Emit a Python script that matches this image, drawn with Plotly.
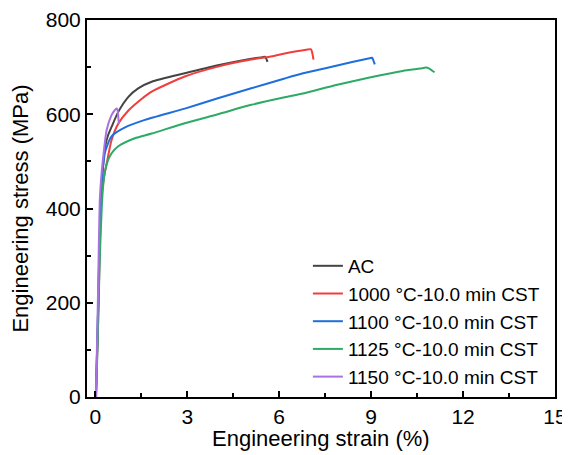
import plotly.graph_objects as go

# strain (%) and stress (MPa)
ac_strain = [0.02, 0.08, 0.13, 0.18, 0.24, 0.32, 0.42, 0.53, 0.75, 1.08, 1.40, 1.84, 2.92, 4.0, 5.09, 5.45, 5.53, 5.58, 5.62]
ac_stress = [0, 150, 300, 420, 480, 531, 556, 573, 605, 637, 655, 669, 687, 704, 718, 721, 722, 718, 711]

t1000_strain = [0.02, 0.09, 0.14, 0.20, 0.28, 0.37, 0.53, 0.75, 1.08, 1.5, 1.84, 2.92, 4.0, 5.09, 5.69, 6.18, 6.89, 7.03, 7.07, 7.12]
t1000_stress = [0, 150, 300, 420, 465, 495, 545, 580, 608, 632, 648, 680, 701, 716, 722, 729, 737, 738, 733, 716]

t1100_strain = [0.02, 0.08, 0.13, 0.18, 0.24, 0.32, 0.53, 0.97, 1.62, 2.92, 4.0, 5.09, 6.18, 6.78, 7.86, 8.95, 9.03, 9.07, 9.12]
t1100_stress = [0, 150, 300, 420, 480, 520, 553, 572, 588, 612, 634, 655, 676, 687, 703, 719, 720, 715, 706]

t1125_strain = [0.03, 0.09, 0.15, 0.21, 0.26, 0.32, 0.42, 0.53, 0.75, 1.29, 1.84, 2.92, 4.0, 5.09, 6.18, 6.78, 7.86, 8.95, 10.03, 10.6, 10.79, 10.9, 11.07]
t1125_stress = [0, 150, 300, 400, 450, 480, 503, 517, 532, 549, 559, 581, 600, 620, 636, 644, 662, 678, 692, 697, 699, 697, 689]

t1150_strain = [0.02, 0.07, 0.11, 0.15, 0.20, 0.26, 0.37, 0.53, 0.63, 0.70, 0.73, 0.75, 0.77]
t1150_stress = [0, 150, 300, 421, 470, 510, 566, 598, 608, 612, 608, 595, 580]

names = ["AC", "1000 °C-10.0 min CST", "1100 °C-10.0 min CST",
         "1125 °C-10.0 min CST", "1150 °C-10.0 min CST"]
colors = ["#444444", "#F23D3D", "#1E6FDC", "#2EAA66", "#A873E0"]

series = [
    (ac_strain, ac_stress),
    (t1000_strain, t1000_stress),
    (t1100_strain, t1100_stress),
    (t1125_strain, t1125_stress),
    (t1150_strain, t1150_stress),
]

fig = go.Figure()
for (x, y), name, c in zip(series, names, colors):
    fig.add_trace(go.Scatter(
        x=x, y=y, name=name, mode="lines",
        line=dict(color=c, width=2, shape="spline", smoothing=0.6),
    ))

axis_style = dict(
    showline=True, linecolor="black", linewidth=2, mirror=True,
    ticks="inside", ticklen=6, tickwidth=2, tickcolor="black",
    showgrid=False, zeroline=False, automargin=False,
    tickfont=dict(size=21, color="black"),
)

# page body has an 8px margin, so the figure is offset by 8px in the window
fig.update_layout(
    width=562, height=447,
    margin=dict(l=79, r=15, t=12, b=58),
    paper_bgcolor="white", plot_bgcolor="white",
    font=dict(family="Liberation Sans, Arial", color="black"),
    xaxis=dict(
        range=[-0.27, 15], tickvals=[0, 3, 6, 9, 12, 15],
        minor=dict(ticks="inside", ticklen=4, tickwidth=1.5, tickcolor="black",
                   tickvals=[1.5, 4.5, 7.5, 10.5, 13.5]),
        **axis_style,
    ),
    yaxis=dict(
        range=[0, 800], tickvals=[0, 200, 400, 600, 800],
        minor=dict(ticks="inside", ticklen=4, tickwidth=1.5, tickcolor="black",
                   tickvals=[100, 300, 500, 700]),
        title=dict(text="Engineering stress (MPa)", font=dict(size=22)),
        **axis_style,
    ),
    legend=dict(
        x=0.472, y=0.398, xanchor="left", yanchor="top",
        font=dict(size=19, color="black"),
        bgcolor="rgba(0,0,0,0)", tracegroupgap=0,
    ),
)

# x title as annotation so it sits clear of the tick labels
fig.add_annotation(
    text="Engineering strain (%)", xref="paper", yref="paper",
    x=0.5, y=-0.11, xanchor="center", yanchor="middle",
    showarrow=False, font=dict(size=22, color="black"),
)

fig.write_html("out.html")
